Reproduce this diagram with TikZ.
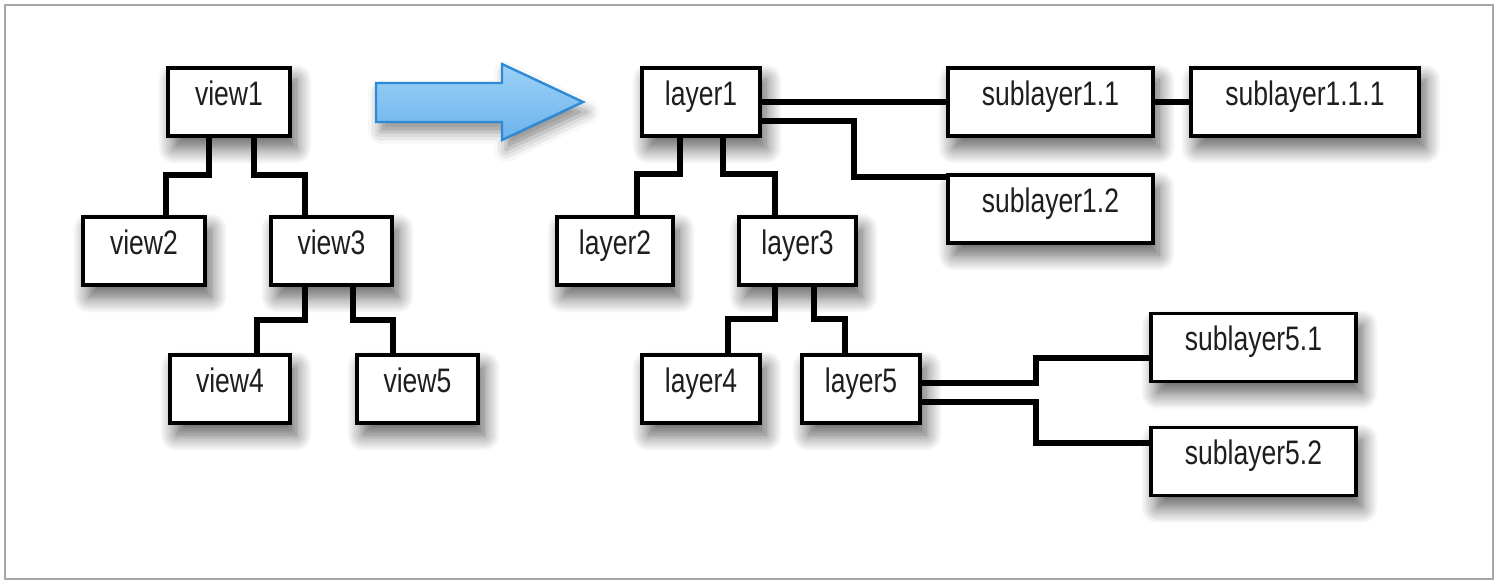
\documentclass[tikz,border=0pt]{standalone}
\usepackage{fontspec}
\setmainfont[FakeStretch=0.78]{Liberation Sans}
\usetikzlibrary{shadows.blur}
\definecolor{arrowfillA}{HTML}{9CD1F7}
\definecolor{arrowfillB}{HTML}{6CB3EC}
\definecolor{arrowline}{HTML}{2F8AD6}
\definecolor{textgray}{HTML}{1E1E1E}
\tikzset{
  box/.style={draw=black, line width=1.9pt, fill=white, inner xsep=0pt, inner ysep=0pt,
    text height=18.75pt, text depth=15.25pt, align=center, text=textgray,
    font=\fontsize{17}{19}\selectfont,
    blur shadow={shadow xshift=3pt, shadow yshift=-6pt, shadow blur radius=8pt, shadow blur steps=14, shadow opacity=65}},
  conn/.style={draw=black, line width=2.8pt, line join=miter}
}
\begin{document}
\begin{tikzpicture}[x=0.5pt, y=-0.5pt]
\useasboundingbox (0,0) rectangle (1500,587);
\draw[gray!70, line width=0.8pt] (5,5) rectangle (1493,579);

% arrow
\shade[top color=arrowfillA, bottom color=arrowfillB, draw=arrowline, line width=1.2pt, line join=miter,
  blur shadow={shadow xshift=2pt, shadow yshift=-5pt, shadow blur radius=6pt, shadow opacity=45}]
  (376,83) -- (502,83) -- (502,64) -- (583,102) -- (502,140) -- (502,122) -- (376,122) -- cycle;

% nodes
\node[box, minimum width=61pt]   (view1) at (229,102) {view1};
\node[box, minimum width=61pt]   (view2) at (144,251) {view2};
\node[box, minimum width=60.5pt] (view3) at (331.5,251) {view3};
\node[box, minimum width=60pt]   (view4) at (230,389) {view4};
\node[box, minimum width=60.5pt] (view5) at (417.5,389) {view5};

\node[box, minimum width=59pt]   (layer1) at (701,102) {layer1};
\node[box, minimum width=58pt]   (layer2) at (615,251) {layer2};
\node[box, minimum width=58.5pt] (layer3) at (797.5,251) {layer3};
\node[box, minimum width=59pt]   (layer4) at (701,389) {layer4};
\node[box, minimum width=59pt]   (layer5) at (861,389) {layer5};

\node[box, minimum width=102.5pt] (s11)  at (1050.5,102) {sublayer1.1};
\node[box, minimum width=114pt]   (s111) at (1305,102) {sublayer1.1.1};
\node[box, minimum width=102.5pt] (s12)  at (1050.5,209) {sublayer1.2};
\node[box, minimum width=102.5pt] (s51)  at (1253.5,347.5) {sublayer5.1};
\node[box, minimum width=102.5pt] (s52)  at (1253.5,461.5) {sublayer5.2};

% connectors
\draw[conn] ([xshift=-10pt]view1.south) -- ++(0,37) -| ([xshift=11pt]view2.north);
\draw[conn] ([xshift=12.5pt]view1.south) -- ++(0,37) -| ([xshift=-13.25pt]view3.north);
\draw[conn] ([xshift=-13.25pt]view3.south) -- ++(0,33) -| ([xshift=13.5pt]view4.north);
\draw[conn] ([xshift=10.75pt]view3.south) -- ++(0,33) -| ([xshift=-12.25pt]view5.north);

\draw[conn] ([xshift=-10.5pt]layer1.south) -- ++(0,36) -| ([xshift=11pt]layer2.north);
\draw[conn] ([xshift=11pt]layer1.south) -- ++(0,36) -| ([xshift=-11.25pt]layer3.north);
\draw[conn] ([xshift=-11.25pt]layer3.south) -- ++(0,32) -| ([xshift=13.5pt]layer4.north);
\draw[conn] ([xshift=8.25pt]layer3.south) -- ++(0,32) -| ([xshift=-8pt]layer5.north);

\draw[conn] (layer1.east) -- (s11.west);
\draw[conn] (s11.east) -- (s111.west);
\draw[conn] ([yshift=-9.5pt]layer1.east) -- ++(92,0) |- ([yshift=16pt]s12.west);

\draw[conn] ([yshift=3pt]layer5.east) -- ++(114,0) |- ([yshift=-5.25pt]s51.west);
\draw[conn] ([yshift=-6.5pt]layer5.east) -- ++(114,0) |- ([yshift=9.25pt]s52.west);
\end{tikzpicture}
\end{document}
